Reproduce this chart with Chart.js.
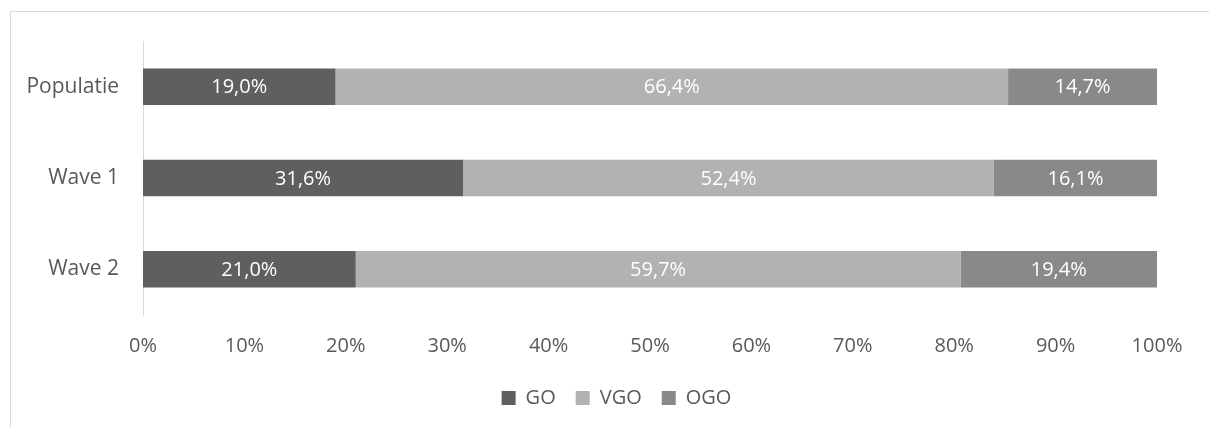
<!DOCTYPE html>
<html>
<head>
<meta charset="utf-8">
<script src="https://cdn.jsdelivr.net/npm/chart.js@4/dist/chart.umd.min.js"></script>
<style>
  html, body { margin: 0; padding: 0; background: #fff; overflow: hidden; }
  #wrap { position: relative; width: 1209px; height: 427px; }
  #frame {
    position: absolute; left: 10px; top: 11px; width: 1400px; height: 600px;
    border-left: 1px solid #d9d9d9; border-top: 1px solid #d9d9d9;
  }
  canvas { position: absolute; left: 0; top: 0; }
</style>
</head>
<body>
<div id="wrap">
  <div id="frame"></div>
  <canvas id="chart" width="1209" height="427"></canvas>
</div>
<script>
const categories = ["Populatie", "Wave 1", "Wave 2"];
const goValues = [19.0, 31.6, 21.0];
const vgoValues = [66.4, 52.4, 59.7];
const ogoValues = [14.7, 16.1, 19.4];
const seriesNames = ["GO", "VGO", "OGO"];
const xTicks = [0, 10, 20, 30, 40, 50, 60, 70, 80, 90, 100];

const textColor = "#595959";
const fontFamily = "'Open Sans', 'Noto Sans', sans-serif";

// 100% stacked, like Excel: each row scaled to its own total
const rows = [goValues, vgoValues, ogoValues];
const totals = categories.map((c, i) => rows.reduce((s, r) => s + r[i], 0));
const share = (arr) => arr.map((v, i) => v / totals[i] * 100);

const fmt = (v) => v.toFixed(1).replace(".", ",") + "%";

const barLabels = {
  id: "barLabels",
  afterDatasetsDraw(chart) {
    const ctx = chart.ctx;
    ctx.save();
    ctx.font = "20px " + fontFamily;
    ctx.fillStyle = "#ffffff";
    ctx.textAlign = "center";
    ctx.textBaseline = "middle";
    chart.data.datasets.forEach((ds, di) => {
      const meta = chart.getDatasetMeta(di);
      meta.data.forEach((bar, i) => {
        const p = bar.getCenterPoint();
        ctx.fillText(fmt(ds.raw[i]), p.x, p.y + 1);
      });
    });
    ctx.restore();
  }
};

// nudge legend to the right, as in the reference
const legendShift = {
  id: "legendShift",
  afterLayout(chart) {
    if (chart.legend) {
      chart.legend.left += 38;
      chart.legend.right += 38;
    }
  }
};

const colors = ["#5f5f5f", "#b2b2b2", "#898989"];
const datasets = [goValues, vgoValues, ogoValues].map((vals, k) => ({
  label: seriesNames[k],
  data: share(vals),
  raw: vals,
  backgroundColor: colors[k],
  borderWidth: 0,
  barPercentage: 1,
  categoryPercentage: 0.4
}));

new Chart(document.getElementById("chart"), {
  type: "bar",
  data: { labels: categories, datasets: datasets },
  plugins: [barLabels, legendShift],
  options: {
    indexAxis: "y",
    responsive: false,
    animation: false,
    layout: { padding: { left: 0, right: 52, top: 41, bottom: 9 } },
    plugins: {
      tooltip: { enabled: false },
      legend: {
        position: "bottom",
        labels: {
          color: textColor,
          font: { family: fontFamily, size: 20 },
          boxWidth: 14,
          boxHeight: 14,
          padding: 20
        }
      }
    },
    scales: {
      x: {
        stacked: true,
        min: 0,
        max: 100,
        afterBuildTicks: (scale) => { scale.ticks = xTicks.map(v => ({ value: v })); },
        afterFit: (scale) => { scale.height = 53; },
        grid: { display: false, drawTicks: false },
        border: { display: false },
        ticks: {
          color: textColor,
          font: { family: fontFamily, size: 20 },
          padding: 19,
          maxRotation: 0,
          callback: (v) => v + "%"
        }
      },
      y: {
        stacked: true,
        afterFit: (scale) => { scale.width = 143; },
        grid: { display: false, drawTicks: false },
        border: { display: true, color: "#d9d9d9", width: 1 },
        ticks: {
          color: textColor,
          font: { family: fontFamily, size: 21 },
          padding: 24
        }
      }
    }
  }
});
</script>
</body>
</html>
